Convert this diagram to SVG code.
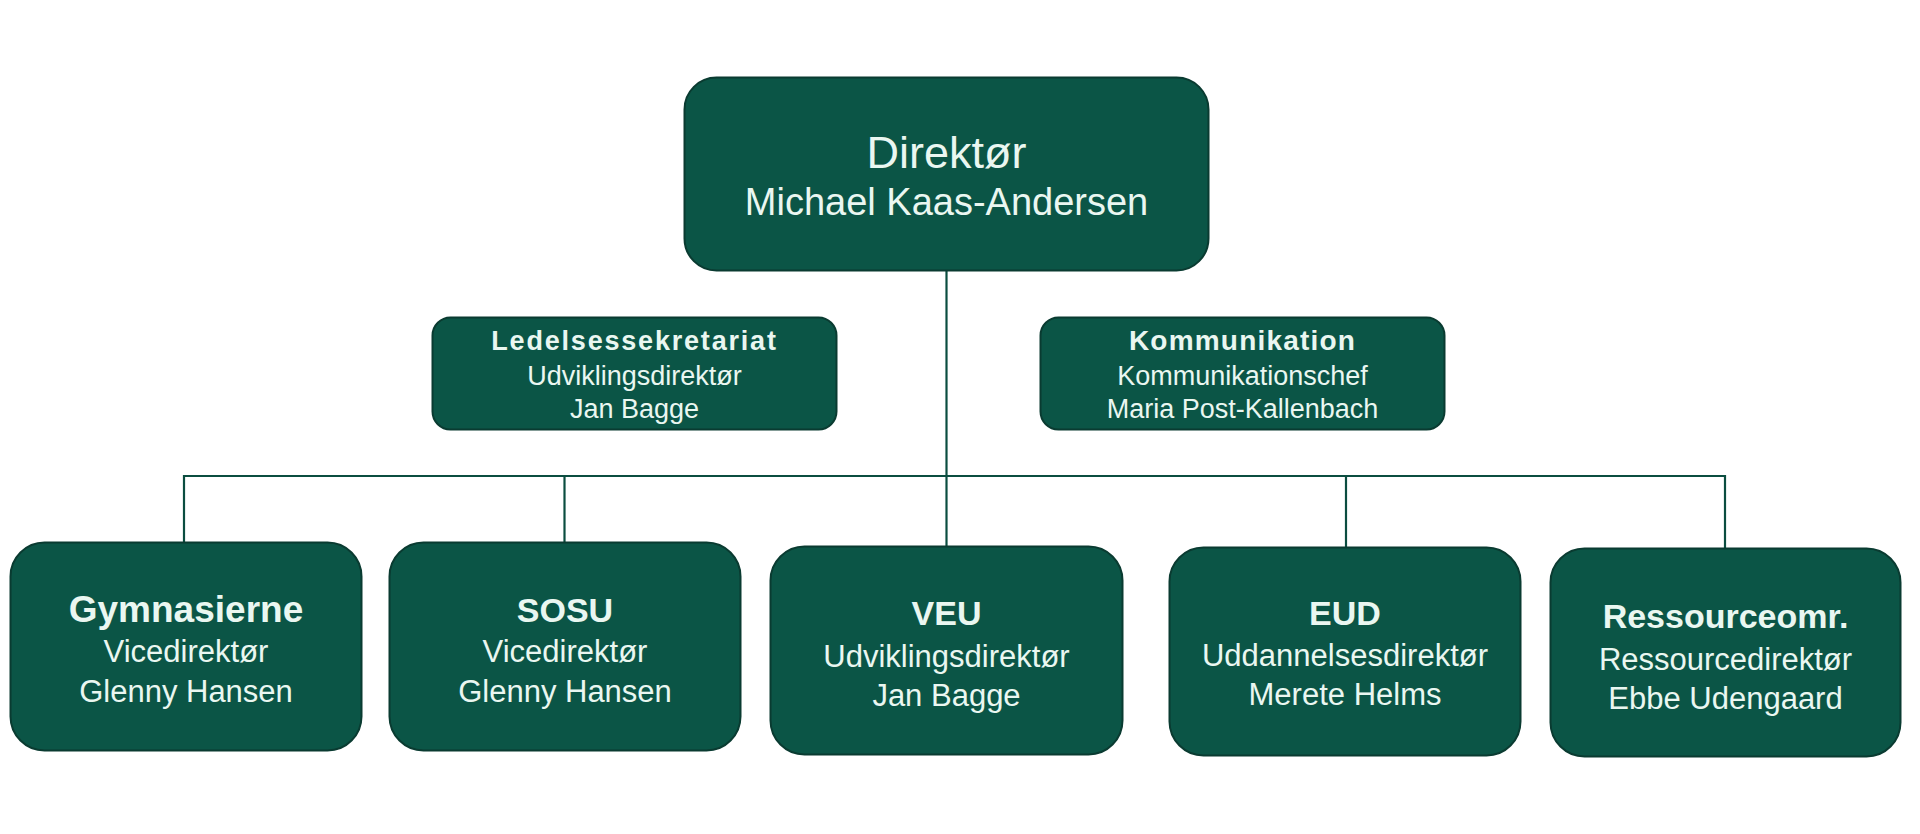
<svg xmlns="http://www.w3.org/2000/svg" width="1920" height="834" viewBox="0 0 1920 834">
<style>
.box{fill:#0b5546;stroke:#0a3b31;stroke-width:2}
.t{font-family:"Liberation Sans",Arial,sans-serif;fill:#eaf7f1;text-anchor:middle}
.b{font-weight:bold}
.conn{stroke:#0b4d40;stroke-width:2.2;fill:none}
</style>
<rect width="1920" height="834" fill="#ffffff"/>
<g id="connectors">
<path class="conn" d="M946.5 270 V546"/>
<path class="conn" d="M184 542 V476 H1725 V548"/>
<path class="conn" d="M564.5 476 V542"/>
<path class="conn" d="M1346 476 V547"/>
</g>
<g id="direktor">
<rect class="box" x="684.5" y="77.5" width="524" height="193" rx="32"/>
<text class="t" x="946.5" y="168" font-size="45">Direktør</text>
<text class="t" x="946.5" y="215" font-size="38">Michael Kaas-Andersen</text>
</g>
<g id="ledelsessekretariat">
<rect class="box" x="432.5" y="317.5" width="404" height="112" rx="18"/>
<text class="t b" x="634.5" y="350" font-size="27" letter-spacing="1.8">Ledelsessekretariat</text>
<text class="t" x="634.5" y="385" font-size="27">Udviklingsdirektør</text>
<text class="t" x="634.5" y="418" font-size="27">Jan Bagge</text>
</g>
<g id="kommunikation">
<rect class="box" x="1040.5" y="317.5" width="404" height="112" rx="18"/>
<text class="t b" x="1242.5" y="350" font-size="28" letter-spacing="1.2">Kommunikation</text>
<text class="t" x="1242.5" y="385" font-size="27">Kommunikationschef</text>
<text class="t" x="1242.5" y="418" font-size="27">Maria Post-Kallenbach</text>
</g>
<g id="gymnasierne">
<rect class="box" x="10.5" y="542.5" width="351" height="208" rx="34"/>
<text class="t b" x="186" y="622" font-size="37">Gymnasierne</text>
<text class="t" x="186" y="662" font-size="31">Vicedirektør</text>
<text class="t" x="186" y="702" font-size="31">Glenny Hansen</text>
</g>
<g id="sosu">
<rect class="box" x="389.5" y="542.5" width="351" height="208" rx="34"/>
<text class="t b" x="565" y="622" font-size="34">SOSU</text>
<text class="t" x="565" y="662" font-size="31">Vicedirektør</text>
<text class="t" x="565" y="702" font-size="31">Glenny Hansen</text>
</g>
<g id="veu">
<rect class="box" x="770.5" y="546.5" width="352" height="208" rx="34"/>
<text class="t b" x="946.5" y="625" font-size="34">VEU</text>
<text class="t" x="946.5" y="667" font-size="31">Udviklingsdirektør</text>
<text class="t" x="946.5" y="706" font-size="31">Jan Bagge</text>
</g>
<g id="eud">
<rect class="box" x="1169.5" y="547.5" width="351" height="208" rx="34"/>
<text class="t b" x="1345" y="625" font-size="34">EUD</text>
<text class="t" x="1345" y="666" font-size="31">Uddannelsesdirektør</text>
<text class="t" x="1345" y="705" font-size="31">Merete Helms</text>
</g>
<g id="ressourceomr">
<rect class="box" x="1550.5" y="548.5" width="350" height="208" rx="34"/>
<text class="t b" x="1725.5" y="628" font-size="34">Ressourceomr.</text>
<text class="t" x="1725.5" y="670" font-size="31">Ressourcedirektør</text>
<text class="t" x="1725.5" y="709" font-size="31">Ebbe Udengaard</text>
</g>
</svg>
